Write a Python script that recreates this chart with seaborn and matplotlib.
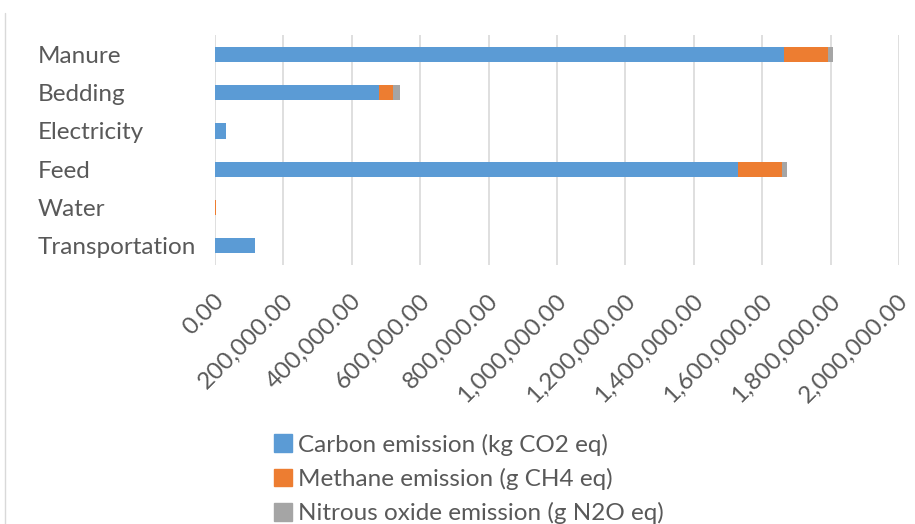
import matplotlib
matplotlib.use("Agg")
import matplotlib.pyplot as plt
import matplotlib.patches as mpatches
import matplotlib.ticker as mticker
import matplotlib.transforms as mtrans
import numpy as np
import pandas as pd
import seaborn as sns

# ── Data ───────────────────────────────────────────────────────────────────────
categories = ["Manure", "Bedding", "Electricity", "Feed", "Water", "Transportation"]
carbon = [1665000, 480000, 31000, 1530000, 500, 117000]
methane = [128000, 41000, 0, 127000, 1500, 0]
nitrous = [15000, 20000, 0, 16000, 0, 0]
series_labels = [
    "Carbon emission (kg CO2 eq)",
    "Methane emission (g CH4 eq)",
    "Nitrous oxide emission (g N2O eq)",
]
x_ticks = np.arange(0, 2000001, 200000)

BLUE, ORANGE, GREY = "#5B9BD5", "#ED7D31", "#A5A5A5"
TEXT = "#595959"
FS = 17.5

sns.set_theme(style="white")
plt.rcParams["font.family"] = ["Lato", "DejaVu Sans"]

df = pd.DataFrame({
    "category": categories,
    "carbon": carbon,
    "methane": methane,
    "nitrous": nitrous,
})
df["cum_methane"] = df["carbon"] + df["methane"]
df["cum_total"] = df["cum_methane"] + df["nitrous"]

fig = plt.figure(figsize=(9.15, 5.24), dpi=100)
ax = fig.add_axes([215 / 915, 1 - 265 / 524, (899 - 215) / 915, (265 - 35) / 524])

# stacked bars: draw cumulative totals back to front
for col, color in [("cum_total", GREY), ("cum_methane", ORANGE), ("carbon", BLUE)]:
    sns.barplot(
        data=df, x=col, y="category", order=categories, orient="h",
        color=color, width=0.4, ax=ax, saturation=1, linewidth=0,
    )

ax.set_xlim(0, 2000000)
ax.set_ylim(5.5, -0.5)
ax.set_xticks(x_ticks)
ax.xaxis.set_major_formatter(mticker.FuncFormatter(lambda v, _: f"{v:,.2f}"))
ax.grid(axis="x", color="#D9D9D9", linewidth=1.2)
ax.set_axisbelow(True)
for s in ax.spines.values():
    s.set_visible(False)
ax.set_xlabel("")
ax.set_ylabel("")
ax.tick_params(axis="x", length=0, pad=16, labelsize=FS, labelcolor=TEXT)
ax.tick_params(axis="y", length=0, pad=14, labelsize=FS, labelcolor=TEXT)
shift = mtrans.ScaledTranslation(0.06, -0.10, fig.dpi_scale_trans)
for lbl in ax.get_xticklabels():
    lbl.set_rotation(45)
    lbl.set_rotation_mode("anchor")
    lbl.set_ha("right")
    lbl.set_va("center")
    lbl.set_transform(lbl.get_transform() + shift)
for lbl in ax.get_yticklabels():
    lbl.set_ha("left")
    lbl.set_x(-(215 - 38) / 684)
    lbl.set_transform(ax.get_yaxis_transform())

handles = [mpatches.Patch(color=c, label=l) for c, l in zip([BLUE, ORANGE, GREY], series_labels)]
fig.legend(
    handles=handles, loc="upper left", bbox_to_anchor=(264 / 915, 1 - 424 / 524),
    frameon=False, fontsize=FS, labelcolor=TEXT, handlelength=0.75, handleheight=0.75,
    handletextpad=0.25, labelspacing=0.5, borderaxespad=0,
)

# chart-area border on the left edge
fig.add_artist(plt.Line2D([5 / 915, 5 / 915], [0, 1 - 13 / 524], color="#D9D9D9", linewidth=1,
                          transform=fig.transFigure))

fig.savefig("out.png", dpi=100)
